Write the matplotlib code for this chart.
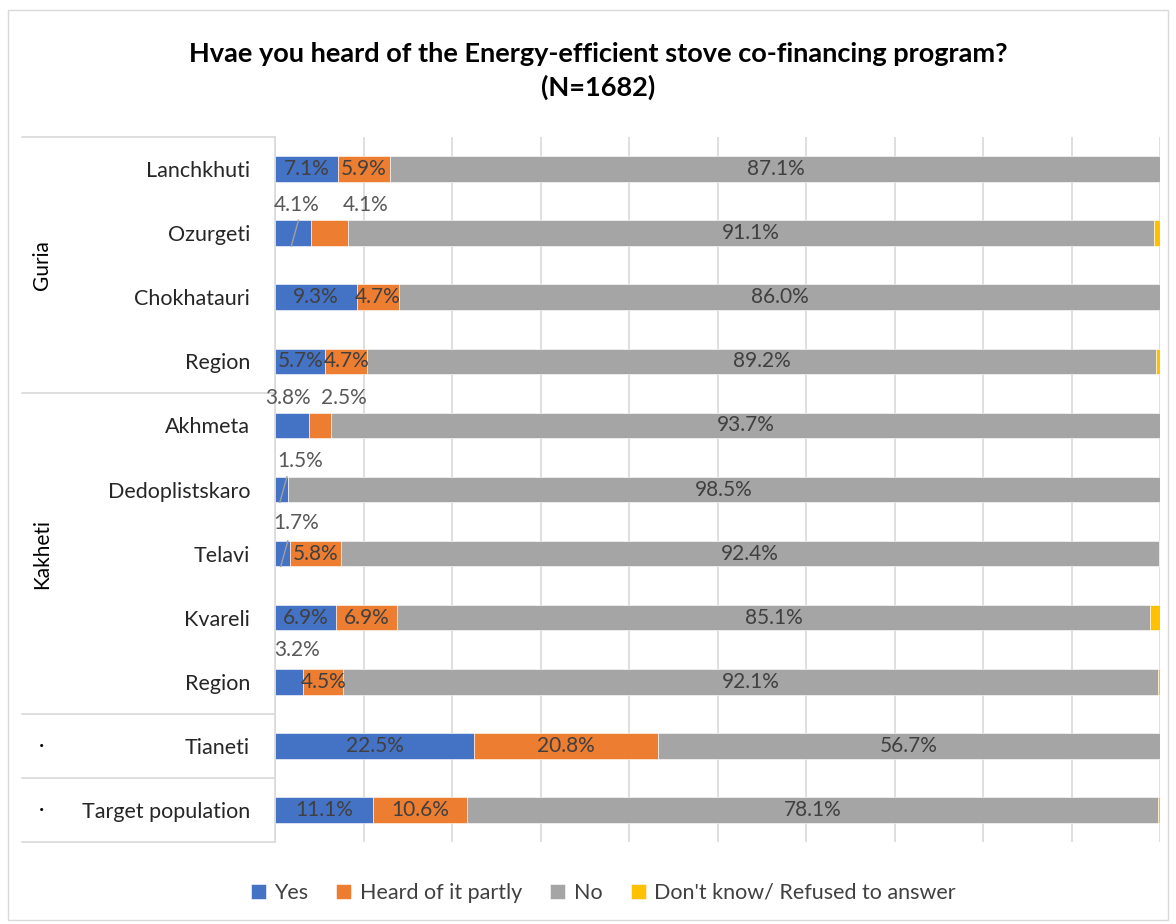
import matplotlib.pyplot as plt
from matplotlib.patches import Rectangle
from matplotlib.transforms import blended_transform_factory

plt.rcParams["font.family"] = ["Lato", "DejaVu Sans"]

# --- data ---
rows = ["Lanchkhuti", "Ozurgeti", "Chokhatauri", "Region",
        "Akhmeta", "Dedoplistskaro", "Telavi", "Kvareli", "Region",
        "Tianeti", "Target population"]
yes     = [7.1, 4.1, 9.3, 5.7, 3.8, 1.5, 1.7, 6.9, 3.2, 22.5, 11.1]
partly  = [5.9, 4.1, 4.7, 4.7, 2.5, 0.0, 5.8, 6.9, 4.5, 20.8, 10.6]
no      = [87.1, 91.1, 86.0, 89.2, 93.7, 98.5, 92.4, 85.1, 92.1, 56.7, 78.1]
dontknow = [0.0, 0.7, 0.0, 0.4, 0.0, 0.0, 0.1, 1.1, 0.2, 0.0, 0.2]

series_names = ["Yes", "Heard of it partly", "No", "Don't know/ Refused to answer"]
colors = ["#4472C4", "#ED7D31", "#A5A5A5", "#FFC000"]

groups = ["Guria", "Kakheti", "·", "·"]
group_sizes = [4, 5, 1, 1]

# labels pushed above the bar: (row, series) -> (x in %, y offset in rows)
lifted = {
    (1, 0): (2.5, -0.44), (1, 1): (10.2, -0.44),
    (4, 0): (1.5, -0.42), (4, 1): (7.8, -0.42),
    (5, 0): (2.8, -0.44),
    (6, 0): (2.4, -0.48),
    (8, 0): (2.5, -0.50),
}
leaders = [1, 5, 6]  # rows with a leader line on the Yes segment

fig = plt.figure(figsize=(11.76, 9.24), dpi=100)
ax = fig.add_axes([275 / 1176, 1 - 842 / 924, 885 / 1176, 705 / 924])

ypos = list(range(len(rows)))
data = [yes, partly, no, dontknow]
left = [0.0] * len(rows)
for s, (vals, col, name) in enumerate(zip(data, colors, series_names)):
    ax.barh(ypos, vals, left=left, height=0.4, color=col, edgecolor="white",
            linewidth=0.4, label=name, zorder=3)
    for i, v in enumerate(vals):
        if s == 3 or v == 0:
            continue
        if (i, s) in lifted:
            lx, dy = lifted[(i, s)]
            ax.text(lx, i + dy, f"{v:.1f}%", ha="center", va="center",
                    fontsize=15, color="#595959", zorder=5)
        else:
            ax.text(left[i] + v / 2, i, f"{v:.1f}%", ha="center", va="center",
                    fontsize=15, color="#404040", zorder=5)
    left = [l + v for l, v in zip(left, vals)]

for i in leaders:
    cx = yes[i] / 2
    ax.plot([cx + 0.6, cx - 0.2], [i - 0.2, i + 0.2], color="#A0A0A0",
            linewidth=1, zorder=4)

ax.set_xlim(0, 100)
ax.set_ylim(len(rows) - 0.5, -0.5)
ax.set_xticks(range(0, 101, 10))
ax.set_xticklabels([])
ax.tick_params(axis="x", length=0)
ax.tick_params(axis="y", length=0, pad=18, labelsize=15.5, labelcolor="#262626")
ax.set_yticks(ypos)
ax.set_yticklabels(rows)
ax.grid(axis="x", color="#D9D9D9", linewidth=1.2, zorder=0)
for side in ["top", "right", "bottom"]:
    ax.spines[side].set_visible(False)
ax.spines["left"].set_color("#D9D9D9")
ax.spines["left"].set_linewidth(1.2)

# group separators and labels
trans = blended_transform_factory(ax.transAxes, ax.transData)
x_left = (22 - 275) / 885
start = -0.5
ax.plot([x_left, 0], [start, start], transform=trans, color="#D9D9D9",
        linewidth=1.2, clip_on=False)
for g, n in zip(groups, group_sizes):
    end = start + n
    ax.plot([x_left, 0], [end, end], transform=trans, color="#D9D9D9",
            linewidth=1.2, clip_on=False)
    rot = 90 if g != "·" else 0
    ax.text((42 - 275) / 885, (start + end) / 2, g, transform=trans,
            rotation=rot, ha="center", va="center", fontsize=15,
            color="#000000")
    start = end

fig.suptitle("Hvae you heard of the Energy-efficient stove co-financing program?\n(N=1682)",
             x=0.509, y=0.955, fontsize=19.5, fontweight="bold", color="#000000",
             linespacing=1.45)

fig.legend(loc="center", bbox_to_anchor=(0.513, 0.034), ncol=4, frameon=False,
           fontsize=15.5, handlelength=0.7, handleheight=0.7, handletextpad=0.4,
           columnspacing=1.3, labelcolor="#404040")

fig.patches.append(Rectangle((8 / 1176, 4 / 924), 1160 / 1176, 910 / 924,
                             transform=fig.transFigure, fill=False,
                             edgecolor="#D9D9D9", linewidth=1))

fig.savefig("out.png", dpi=100)
